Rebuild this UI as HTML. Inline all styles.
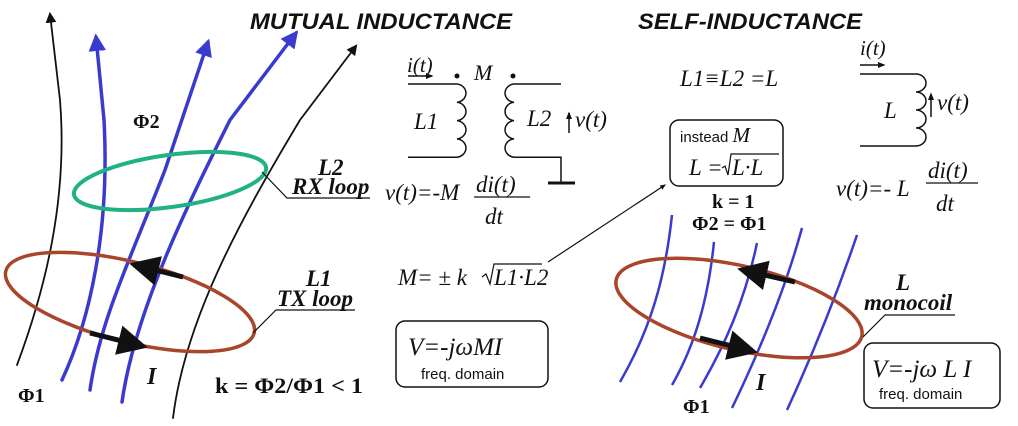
<!DOCTYPE html>
<html><head><meta charset="utf-8"><style>
html,body{margin:0;padding:0;background:#fff;}
svg{display:block;}
.t{font-family:"Liberation Serif",serif;font-style:italic;fill:#111;}
.b{font-family:"Liberation Serif",serif;font-weight:bold;fill:#111;}
.s{font-family:"Liberation Sans",sans-serif;fill:#111;}
</style></head><body>
<svg width="1018" height="426" viewBox="0 0 1018 426" xmlns="http://www.w3.org/2000/svg">
<defs>
<marker id="ab" viewBox="0 0 10 10" refX="8" refY="5" markerWidth="6" markerHeight="7" orient="auto"><path d="M0,0L10,5L0,10z" fill="#111"/></marker>
<marker id="au" viewBox="0 0 10 10" refX="8" refY="5" markerWidth="5" markerHeight="6" orient="auto"><path d="M0,0L10,5L0,10z" fill="#3a3ad0"/></marker>
<marker id="as" viewBox="0 0 10 10" refX="8" refY="5" markerWidth="5" markerHeight="5" orient="auto"><path d="M0,1L10,5L0,9z" fill="#111"/></marker>
</defs>
<g fill="none" stroke-linecap="round">
<path d="M17,365 C45,290 68,200 60,100 L50,14" stroke="#111" stroke-width="1.8" marker-end="url(#ab)"/>
<path d="M173,418 C185,320 240,220 300,120 L356,46" stroke="#111" stroke-width="1.8" marker-end="url(#ab)"/>
<path d="M62,380 C90,320 110,230 104,120 L96,37" stroke="#3a3ad0" stroke-width="3.5" marker-end="url(#au)"/>
<path d="M90,390 C100,320 130,260 165,170 L208,42" stroke="#3a3ad0" stroke-width="3.5" marker-end="url(#au)"/>
<path d="M122,402 C135,310 190,200 230,120 L296,33" stroke="#3a3ad0" stroke-width="3.5" marker-end="url(#au)"/>
</g>
<ellipse cx="170" cy="181" rx="97" ry="26" transform="rotate(-8 170 181)" fill="none" stroke="#20b283" stroke-width="4"/>
<ellipse cx="130" cy="302" rx="128" ry="40" transform="rotate(14 130 302)" fill="none" stroke="#a8452a" stroke-width="3.5"/>
<path d="M183,277 L135,265" stroke="#111" stroke-width="5" marker-end="url(#ab)"/>
<path d="M90,333 L142,346" stroke="#111" stroke-width="5" marker-end="url(#ab)"/>
<polyline points="262,172 287,198 370,198" fill="none" stroke="#111" stroke-width="1.2"/>
<polyline points="253,333 276,310 355,310" fill="none" stroke="#111" stroke-width="1.2"/>
<text x="133" y="128" class="b" font-size="20">Φ2</text>
<text x="318" y="175" class="t" font-size="23" font-weight="bold">L2</text>
<text x="292" y="194" class="t" font-size="23" font-weight="bold">RX loop</text>
<text x="306" y="286" class="t" font-size="23" font-weight="bold">L1</text>
<text x="277" y="306" class="t" font-size="23" font-weight="bold">TX loop</text>
<text x="147" y="384" class="t" font-size="24" font-weight="bold">I</text>
<text x="18" y="402" class="b" font-size="20">Φ1</text>
<text x="215" y="393" class="b" font-size="22" textLength="148" lengthAdjust="spacingAndGlyphs">k = Φ2/Φ1 &lt; 1</text>
<text x="250" y="29" class="s" font-size="22" font-weight="bold" font-style="italic" textLength="262" lengthAdjust="spacingAndGlyphs">MUTUAL INDUCTANCE</text>
<text x="638" y="29" class="s" font-size="22" font-weight="bold" font-style="italic" textLength="224" lengthAdjust="spacingAndGlyphs">SELF-INDUCTANCE</text>
<!-- transformer -->
<text x="407" y="72" class="t" font-size="21">i(t)</text>
<line x1="408" y1="76" x2="432" y2="76" stroke="#111" stroke-width="1.5" marker-end="url(#as)"/>
<circle cx="457" cy="76" r="2.5" fill="#111"/><circle cx="513" cy="76" r="2.5" fill="#111"/>
<text x="474" y="80" class="t" font-size="22">M</text>
<g fill="none" stroke="#111" stroke-width="1.5">
<path d="M408,84 H457 a10,9.2 0 0 1 0,18.3 a10,9.2 0 0 1 0,18.3 a10,9.2 0 0 1 0,18.3 a10,9.2 0 0 1 0,18.3 H408"/>
<path d="M561,84 H514 a10,9.2 0 0 0 0,18.3 a10,9.2 0 0 0 0,18.3 a10,9.2 0 0 0 0,18.3 a10,9.2 0 0 0 0,18.3 H561 V183"/>
<line x1="548" y1="183" x2="575" y2="183" stroke-width="3"/>
</g>
<text x="414" y="129" class="t" font-size="23">L1</text>
<text x="527" y="126" class="t" font-size="23">L2</text>
<line x1="569" y1="133" x2="569" y2="113" stroke="#111" stroke-width="1.5" marker-end="url(#as)"/>
<text x="575" y="127" class="t" font-size="23">v(t)</text>
<text x="385" y="200" class="t" font-size="23">v(t)=-M</text>
<text x="476" y="192" class="t" font-size="23">di(t)</text>
<line x1="474" y1="197" x2="530" y2="197" stroke="#111" stroke-width="1.3"/>
<text x="485" y="224" class="t" font-size="23">dt</text>
<text x="398" y="285" class="t" font-size="23">M= ± k</text>
<path d="M482,277 l4,-3 4,10 4,-20 h48" fill="none" stroke="#111" stroke-width="1.2"/>
<text x="494" y="285" class="t" font-size="23">L1·L2</text>
<line x1="548" y1="262" x2="665" y2="185" stroke="#111" stroke-width="1.2" marker-end="url(#as)"/>
<rect x="396" y="321" width="152" height="66" rx="9" fill="#fff" stroke="#111" stroke-width="1.5"/>
<text x="408" y="355" class="t" font-size="25">V=-jωMI</text>
<text x="421" y="379" class="s" font-size="15">freq. domain</text>
<!-- self -->
<text x="680" y="86" class="t" font-size="23">L1≡L2 =L</text>
<text x="860" y="55" class="t" font-size="21">i(t)</text>
<line x1="860" y1="65" x2="884" y2="65" stroke="#111" stroke-width="1.5" marker-end="url(#as)"/>
<path d="M860,74 H916 a10,9 0 0 1 0,18 a10,9 0 0 1 0,18 a10,9 0 0 1 0,18 a10,9 0 0 1 0,18 H860" fill="none" stroke="#111" stroke-width="1.5"/>
<text x="884" y="118" class="t" font-size="23">L</text>
<line x1="931" y1="117" x2="931" y2="94" stroke="#111" stroke-width="1.5" marker-end="url(#as)"/>
<text x="937" y="110" class="t" font-size="23">v(t)</text>
<text x="836" y="196" class="t" font-size="23">v(t)=- L</text>
<text x="928" y="178" class="t" font-size="23">di(t)</text>
<line x1="926" y1="183" x2="978" y2="183" stroke="#111" stroke-width="1.3"/>
<text x="936" y="211" class="t" font-size="23">dt</text>
<rect x="670" y="120" width="113" height="66" rx="9" fill="#fff" stroke="#111" stroke-width="1.5"/>
<text x="680" y="142" class="s" font-size="15">instead <tspan class="t" font-size="21">M</tspan></text>
<text x="689" y="175" class="t" font-size="23">L =</text>
<path d="M722,168 l3,-2 3,9 3,-21 h48" fill="none" stroke="#111" stroke-width="1.2"/>
<text x="732" y="175" class="t" font-size="23">L·L</text>
<text x="712" y="208" class="b" font-size="20">k = 1</text>
<text x="692" y="230" class="b" font-size="20">Φ2 = Φ1</text>
<g fill="none" stroke="#3a3ad0" stroke-width="2.5">
<path d="M672,215 C665,280 650,330 620,382"/>
<path d="M714,242 C708,300 695,345 672,385"/>
<path d="M757,243 C745,300 725,345 700,388"/>
<path d="M802,228 C785,290 760,350 732,408"/>
<path d="M857,235 C835,300 810,360 787,410"/>
</g>
<ellipse cx="739" cy="308" rx="126" ry="42" transform="rotate(13 739 308)" fill="none" stroke="#a8452a" stroke-width="3.5"/>
<path d="M795,282 L743,270" stroke="#111" stroke-width="5" marker-end="url(#ab)"/>
<path d="M700,338 L752,351" stroke="#111" stroke-width="5" marker-end="url(#ab)"/>
<polyline points="863,337 885,315 955,315" fill="none" stroke="#111" stroke-width="1.2"/>
<text x="896" y="290" class="t" font-size="23" font-weight="bold">L</text>
<text x="864" y="310" class="t" font-size="23" font-weight="bold">monocoil</text>
<text x="756" y="390" class="t" font-size="24" font-weight="bold">I</text>
<text x="683" y="413" class="b" font-size="20">Φ1</text>
<rect x="864" y="343" width="136" height="65" rx="9" fill="#fff" stroke="#111" stroke-width="1.5"/>
<text x="872" y="377" class="t" font-size="25">V=-jω L I</text>
<text x="879" y="399" class="s" font-size="15">freq. domain</text>
</svg>
</body></html>
